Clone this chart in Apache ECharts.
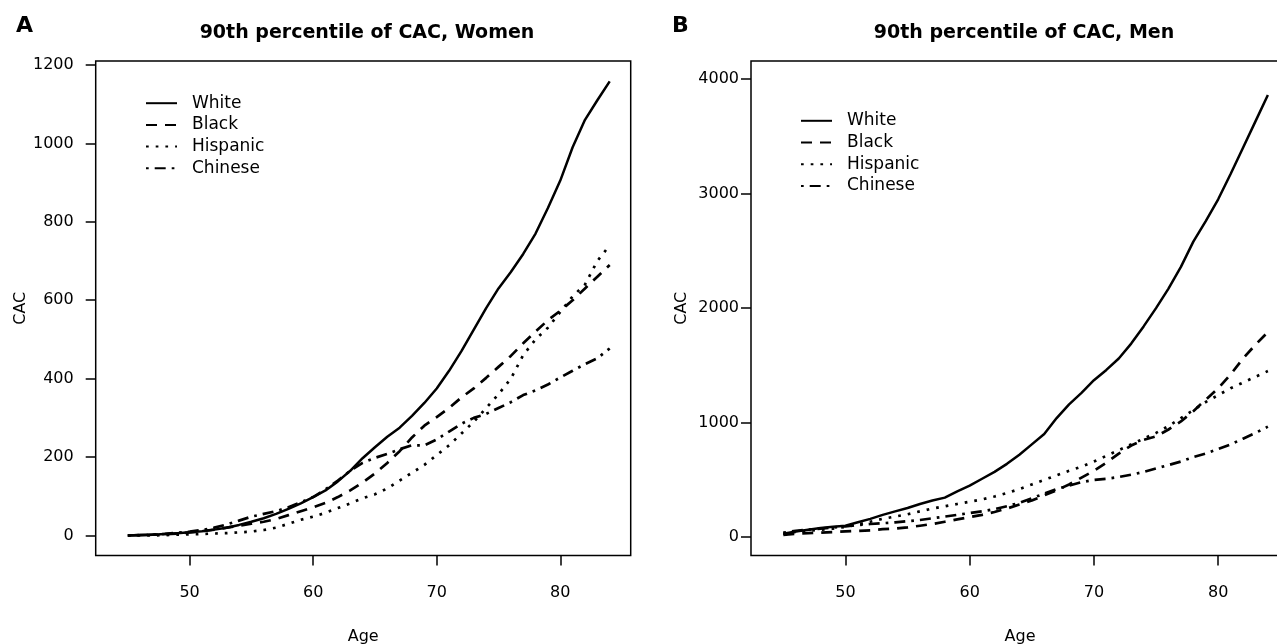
<!DOCTYPE html>
<html>
<head>
<meta charset="utf-8">
<script src="https://cdn.jsdelivr.net/npm/echarts@6/dist/echarts.min.js"></script>
<style>
html,body{margin:0;padding:0;background:#fff;}
#chart{width:1277px;height:644px;}
</style>
</head>
<body>
<div id="chart"></div>
<script>
// ---- data ----
const ages = [45,46,47,48,49,50,51,52,53,54,55,56,57,58,59,60,61,62,63,64,65,66,67,68,69,70,71,72,73,74,75,76,77,78,79,80,81,82,83,84];

const womenWhite    = [0,1,2,4,6,8,11,15,20,27,35,44,55,68,82,98,115,138,165,197,225,252,275,305,338,375,420,470,525,580,630,672,718,770,835,905,990,1060,1110,1158];
const womenBlack    = [0,1,2,3,5,8,11,15,20,25,30,35,42,52,62,72,83,98,115,135,158,185,215,250,280,302,325,352,375,402,430,458,490,520,549,573,600,630,660,690];
const womenHispanic = [0,0,0,1,2,3,4,5,6,8,10,14,20,30,40,48,58,70,82,95,105,120,140,160,180,205,230,260,290,325,360,400,460,500,530,570,610,640,700,740];
const womenChinese  = [0,1,2,4,7,10,14,20,28,38,48,55,62,72,85,98,118,140,165,185,198,208,220,230,230,245,265,285,300,310,325,340,358,370,385,403,420,437,452,477];

const menWhite    = [30,50,65,80,90,100,130,160,195,225,255,290,320,345,400,450,510,570,640,720,810,900,1040,1160,1260,1370,1460,1560,1690,1840,2000,2170,2360,2580,2760,2950,3170,3400,3630,3860];
const menBlack    = [20,30,35,40,45,50,55,60,70,75,85,100,115,135,155,175,195,220,250,285,320,365,410,460,520,580,650,730,800,850,880,940,1010,1100,1200,1300,1420,1560,1680,1790];
const menHispanic = [30,45,55,65,75,90,110,135,160,180,200,225,250,270,290,310,330,355,385,420,460,500,540,580,615,660,710,760,810,860,910,970,1040,1110,1180,1240,1300,1350,1400,1450];
const menChinese  = [40,55,65,75,85,95,105,115,122,130,140,150,165,180,195,210,225,245,270,300,340,380,420,450,480,500,510,525,545,570,600,630,660,700,730,770,810,860,910,965];

const groups = ['White','Black','Hispanic','Chinese'];
const xTicks = [50,60,70,80];
const womenYTicks = [0,200,400,600,800,1000,1200];
const menYTicks = [0,1000,2000,3000,4000];
const titles = ['90th percentile of CAC, Women','90th percentile of CAC, Men'];
const panelLetters = ['A','B'];
const xName = 'Age';
const yName = 'CAC';

// ---- styles ----
const FONT = 'DejaVu Sans';
const styles = {
  White:    {type:'solid', width:2.5},
  Black:    {type:[11,8], width:2.7},
  Hispanic: {type:[2.7,7], width:2.7},
  Chinese:  {type:[2.7,6,11,6], width:2.7}
};

function pairs(vals){ return ages.map((a,i)=>[a, vals[i]]); }
const plain = v => String(v);

const panels = [
  {data:[womenWhite,womenBlack,womenHispanic,womenChinese], yTicks:womenYTicks, ymin:-51, ymax:1210, labelMargin:22, nameGap:55},
  {data:[menWhite,menBlack,menHispanic,menChinese], yTicks:menYTicks, ymin:-160, ymax:4157, labelMargin:12, nameGap:61}
];

const grids = [
  {left:95.7, top:61, width:535, height:494.5},
  {left:751, top:61, width:538, height:494.5}
];

function legendAt(left, top){
  return {left:left, top:top, orient:'vertical', padding:0, itemWidth:31, itemHeight:14, itemGap:4.7,
    data:groups, selectedMode:false,
    itemStyle:{opacity:0, borderWidth:0},
    textStyle:{fontFamily:FONT, fontSize:17, color:'#000', padding:[0,0,0,10]}};
}

const option = {
  animation:false,
  backgroundColor:'#ffffff',
  textStyle:{fontFamily:FONT, color:'#000'},
  title: [
    {text:titles[0], left:362, top:19, textAlign:'center', textStyle:{fontFamily:FONT, fontWeight:'bold', fontSize:19, color:'#000'}},
    {text:titles[1], left:1019, top:19, textAlign:'center', textStyle:{fontFamily:FONT, fontWeight:'bold', fontSize:19, color:'#000'}},
    {text:panelLetters[0], left:11, top:10, textStyle:{fontFamily:FONT, fontWeight:'bold', fontSize:22, color:'#000'}},
    {text:panelLetters[1], left:667, top:10, textStyle:{fontFamily:FONT, fontWeight:'bold', fontSize:22, color:'#000'}}
  ],
  legend: [legendAt(145, 94.7), legendAt(800, 112.3)],
  grid: grids.map(g=>Object.assign({show:true, borderColor:'#000', borderWidth:1.5, backgroundColor:'transparent', containLabel:false, outerBoundsMode:'none'}, g)),
  xAxis: [0,1].map(i=>({
    type:'value', gridIndex:i, min:42.4, max:85.7, position:'bottom',
    name:xName, nameLocation:'middle', nameGap:73,
    nameTextStyle:{fontFamily:FONT, fontSize:16, color:'#000'},
    axisLine:{show:false, onZero:false},
    splitLine:{show:false},
    axisTick:{show:true, length:10, inside:false, customValues:xTicks, lineStyle:{color:'#000', width:1.5}},
    axisLabel:{customValues:xTicks, margin:29, formatter:plain, fontFamily:FONT, fontSize:16, color:'#000'}
  })),
  yAxis: panels.map((p,i)=>({
    type:'value', gridIndex:i, min:p.ymin, max:p.ymax, position:'left',
    name:yName, nameLocation:'middle', nameGap:p.nameGap, nameRotate:90,
    nameTextStyle:{fontFamily:FONT, fontSize:16, color:'#000'},
    axisLine:{show:false, onZero:false},
    splitLine:{show:false},
    axisTick:{show:true, length:10, customValues:p.yTicks, lineStyle:{color:'#000', width:1.5}},
    axisLabel:{customValues:p.yTicks, margin:p.labelMargin, formatter:plain, fontFamily:FONT, fontSize:16, color:'#000'}
  })),
  series: []
};

panels.forEach((p,pi)=>{
  groups.forEach((g,gi)=>{
    option.series.push({
      name:g, type:'line', xAxisIndex:pi, yAxisIndex:pi,
      data:pairs(p.data[gi]), symbol:'none', smooth:false,
      lineStyle:{color:'#000', width:styles[g].width, type:styles[g].type, cap:'butt'},
      itemStyle:{color:'#000'}
    });
  });
});

const chart = echarts.init(document.getElementById('chart'), null, {renderer:'canvas'});
chart.setOption(option);
</script>
</body>
</html>
